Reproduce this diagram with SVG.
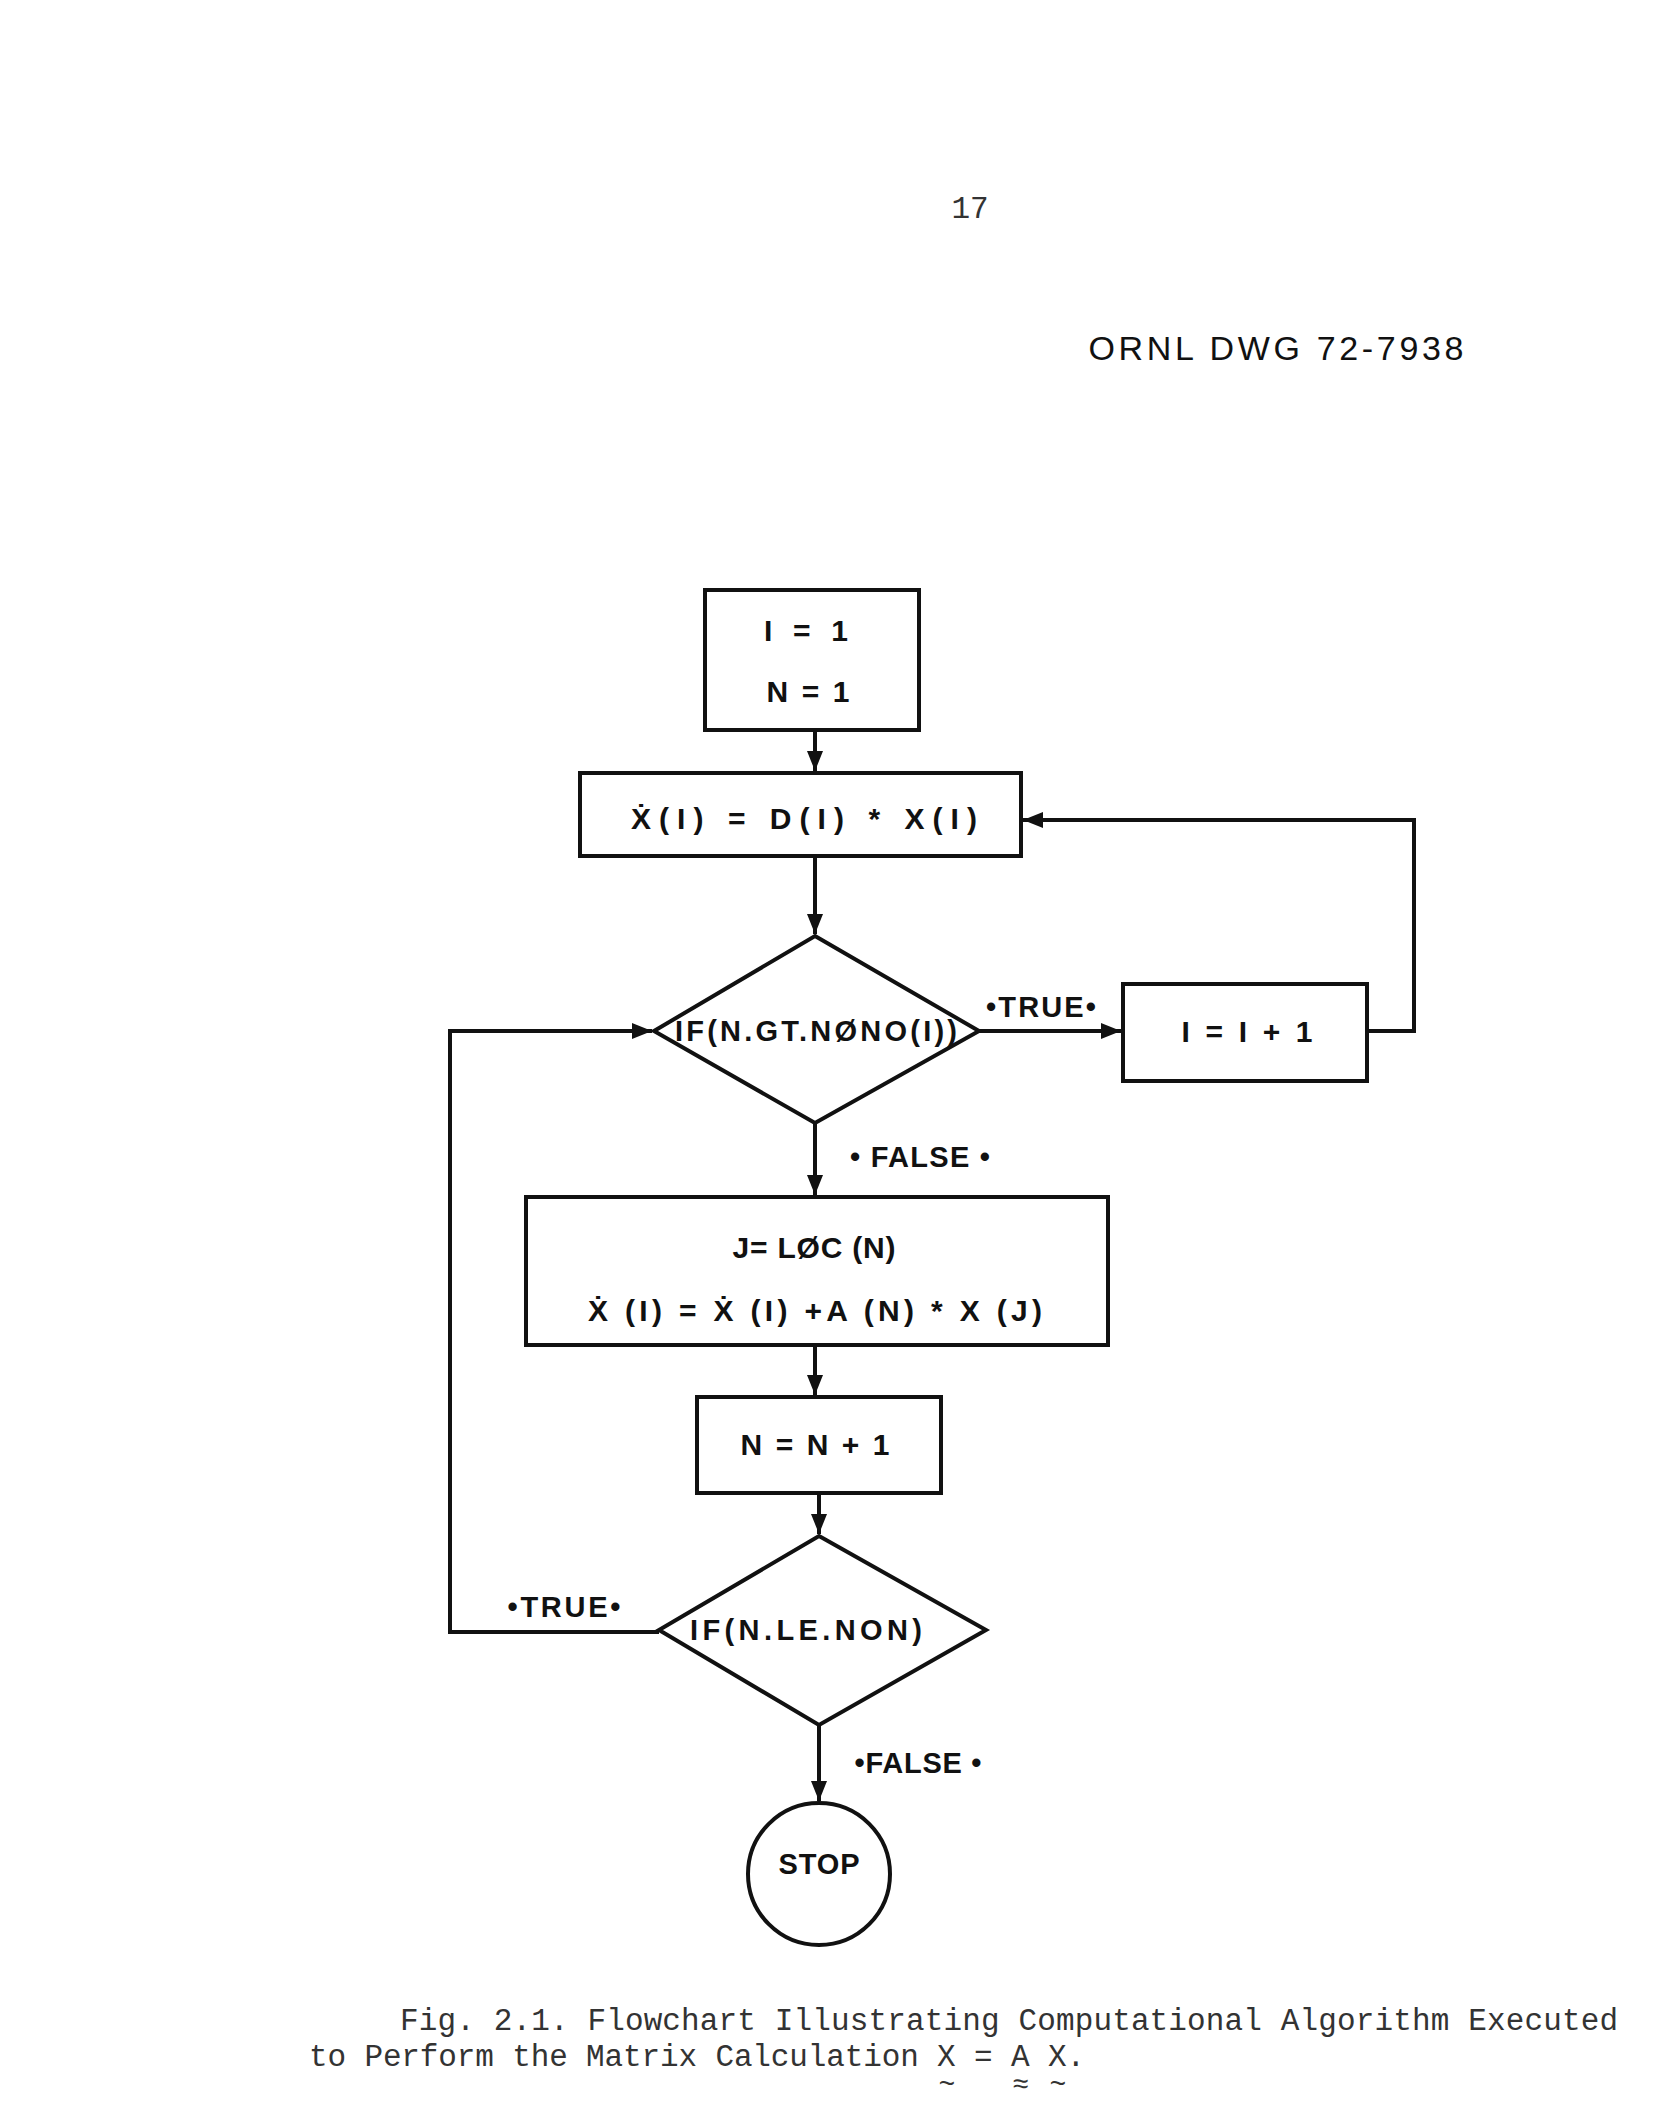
<svg xmlns="http://www.w3.org/2000/svg" width="1654" height="2110" viewBox="0 0 1654 2110">
<style>
.s{fill:none;stroke:#111;stroke-width:4}
.t{font-family:"Liberation Sans",Arial,sans-serif;font-weight:bold;font-size:30px;fill:#111;text-anchor:middle}
.l{font-family:"Liberation Sans",Arial,sans-serif;font-weight:bold;font-size:29px;fill:#111;text-anchor:middle}
.c{font-family:"Liberation Mono","Courier New",monospace;font-size:31px;fill:#333}
.w{font-family:"Liberation Mono","Courier New",monospace;font-size:28px;fill:#333;text-anchor:middle}
</style>
<defs>
<marker id="a" viewBox="0 0 10 10" refX="10" refY="5" markerWidth="5" markerHeight="5" orient="auto" markerUnits="strokeWidth">
<path d="M0,1 L10,5 L0,9 Z" fill="#111"/>
</marker>
</defs>
<rect width="1654" height="2110" fill="#fff"/>
<text x="970" y="218" class="c" text-anchor="middle">17</text>
<text x="1276" y="360" font-family="Liberation Sans,Arial,sans-serif" font-size="34" fill="#111" text-anchor="middle" textLength="375">ORNL DWG 72-7938</text>

<g id="connectors" class="s">
<line x1="815" y1="730" x2="815" y2="771" marker-end="url(#a)"/>
<line x1="815" y1="856" x2="815" y2="934" marker-end="url(#a)"/>
<line x1="979" y1="1031" x2="1121" y2="1031" marker-end="url(#a)"/>
<polyline points="1367,1031 1414,1031 1414,820 1023,820" marker-end="url(#a)"/>
<line x1="815" y1="1123" x2="815" y2="1195" marker-end="url(#a)"/>
<line x1="815" y1="1345" x2="815" y2="1395" marker-end="url(#a)"/>
<line x1="819" y1="1493" x2="819" y2="1534" marker-end="url(#a)"/>
<polyline points="659,1632 450,1632 450,1031 652,1031" marker-end="url(#a)"/>
<line x1="819" y1="1725" x2="819" y2="1801" marker-end="url(#a)"/>
</g>
<text x="1041" y="1017" class="l" textLength="110">•TRUE•</text>
<text x="920" y="1167" class="l" textLength="140">• FALSE •</text>
<text x="564" y="1617" class="l" textLength="113">•TRUE•</text>
<text x="918" y="1773" class="l" textLength="127">•FALSE •</text>

<g id="init"><rect x="705" y="590" width="214" height="140" class="s"/>
<text x="806" y="641" class="t" textLength="84">I = 1</text><text x="808" y="702" class="t" textLength="83">N = 1</text></g>
<g id="xdot"><rect x="580" y="773" width="441" height="83" class="s"/>
<text x="804" y="829" class="t" textLength="346">Ẋ(I) = D(I) * X(I)</text></g>
<g id="if1"><polygon points="815,936 979,1031 815,1123 654,1031" class="s"/>
<text x="816" y="1041" class="l" textLength="282">IF(N.GT.NØNO(I))</text></g>
<g id="inc-i"><rect x="1123" y="984" width="244" height="97" class="s"/>
<text x="1247" y="1042" class="t" textLength="131">I = I + 1</text></g>
<g id="loc"><rect x="526" y="1197" width="582" height="148" class="s"/>
<text x="814" y="1258" class="t" textLength="163">J= LØC (N)</text>
<text x="815" y="1321" class="t" textLength="454">Ẋ (I) = Ẋ (I) +A (N) * X (J)</text></g>
<g id="inc-n"><rect x="697" y="1397" width="244" height="96" class="s"/>
<text x="815" y="1455" class="t" textLength="149">N = N + 1</text></g>
<g id="if2"><polygon points="819,1536 986,1630 819,1725 659,1630" class="s"/>
<text x="806" y="1640" class="l" textLength="232">IF(N.LE.NON)</text></g>
<g id="stop"><circle cx="819" cy="1874" r="71" class="s"/>
<text x="819" y="1874" class="l" textLength="81">STOP</text></g>

<text x="400" y="2030" class="c" textLength="1218">Fig. 2.1.  Flowchart Illustrating Computational Algorithm Executed</text>
<text x="309" y="2066" class="c" textLength="776">to Perform the Matrix Calculation X = A X.</text>
<text x="947" y="2093" class="w">~</text>
<text x="1021" y="2093" class="w">≈</text>
<text x="1058" y="2093" class="w">~</text>
</svg>
